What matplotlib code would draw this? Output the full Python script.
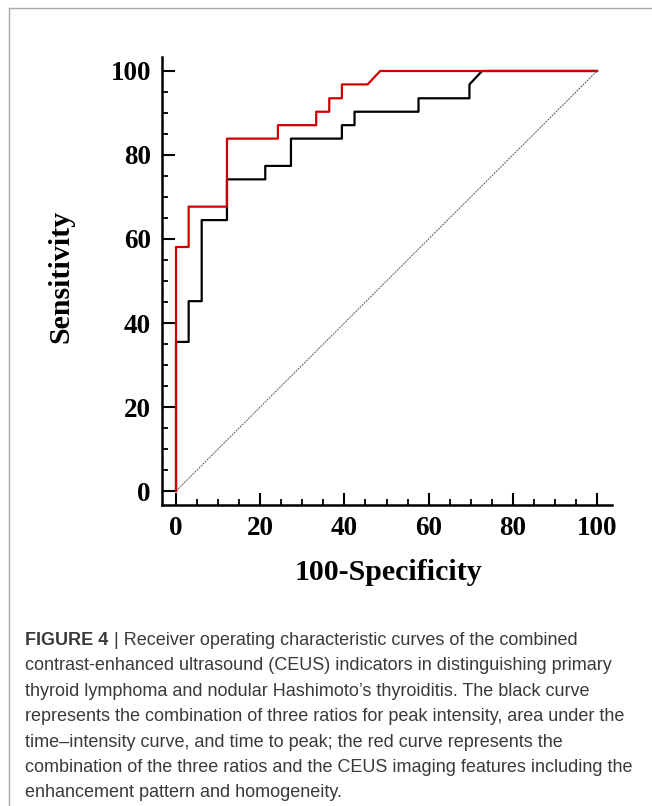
import matplotlib
matplotlib.use("Agg")
import matplotlib.pyplot as plt
from matplotlib.lines import Line2D
from matplotlib.ticker import MultipleLocator

# ROC points (100-Specificity, Sensitivity)
black_x = [0, 0, 3.0, 3.0, 6.1, 6.1, 12.1, 12.1, 21.2, 21.2, 27.3, 27.3,
           39.4, 39.4, 42.4, 42.4, 57.6, 57.6, 69.7, 69.7, 72.7, 100]
black_y = [0, 35.5, 35.5, 45.2, 45.2, 64.5, 64.5, 74.2, 74.2, 77.4, 77.4, 83.9,
           83.9, 87.1, 87.1, 90.3, 90.3, 93.5, 93.5, 96.8, 100, 100]

red_x = [0, 0, 3.0, 3.0, 12.1, 12.1, 24.2, 24.2, 33.3, 33.3, 36.4, 36.4,
         39.4, 39.4, 45.5, 48.5, 100]
red_y = [0, 58.1, 58.1, 67.7, 67.7, 83.9, 83.9, 87.1, 87.1, 90.3, 90.3, 93.5,
         93.5, 96.8, 96.8, 100, 100]

ref_x = [0, 100]
ref_y = [0, 100]

caption_head = "FIGURE 4"
caption_lines = [
    "| Receiver operating characteristic curves of the combined",
    "contrast-enhanced ultrasound (CEUS) indicators in distinguishing primary",
    "thyroid lymphoma and nodular Hashimoto\u2019s thyroiditis. The black curve",
    "represents the combination of three ratios for peak intensity, area under the",
    "time\u2013intensity curve, and time to peak; the red curve represents the",
    "combination of the three ratios and the CEUS imaging features including the",
    "enhancement pattern and homogeneity.",
]

W, H = 652, 806
fig = plt.figure(figsize=(W / 100, H / 100), dpi=100)
ax = fig.add_axes([162 / W, 1 - 505 / H, 450 / W, 448 / H])

serif = "Liberation Serif"

ax.plot(ref_x, ref_y, color="#555555", lw=0.7, ls=(0, (2, 1)))
ax.plot(black_x, black_y, color="black", lw=1.6)
ax.plot(red_x, red_y, color="#cc0000", lw=1.6)

ax.set_xlim(-3.33, 103.56)
ax.set_ylim(-3.33, 103.33)
for s in ["top", "right"]:
    ax.spines[s].set_visible(False)
for s in ["left", "bottom"]:
    ax.spines[s].set_linewidth(1.8)

ax.xaxis.set_minor_locator(MultipleLocator(5))
ax.yaxis.set_minor_locator(MultipleLocator(5))
ax.set_xticks(range(0, 101, 20))
ax.set_yticks(range(0, 101, 20))
ax.tick_params(which="major", direction="in", length=9, width=1.5, pad=8)
ax.tick_params(which="minor", direction="in", length=4.5, width=1.3)
for lab in ax.get_xticklabels() + ax.get_yticklabels():
    lab.set_fontfamily(serif)
    lab.set_fontweight("bold")
    lab.set_fontsize(19.5)

fig.text(61 / W, 1 - 276 / H, "Sensitivity", rotation=90, ha="center", va="center",
         fontfamily=serif, fontweight="bold", fontsize=21.5)
fig.text(388 / W, 1 - 572 / H, "100-Specificity", ha="center", va="center",
         fontfamily=serif, fontweight="bold", fontsize=21.5)

# frame lines
fig.add_artist(Line2D([9 / W, 1], [1 - 8 / H, 1 - 8 / H], color="#aaaaaa", lw=1.0))
fig.add_artist(Line2D([9 / W, 9 / W], [1 - 8 / H, 0], color="#aaaaaa", lw=1.0))

# caption
sans = "Liberation Sans"
cap_color = "#3a3a3a"
fs = 13
x0 = 25 / W
base0 = 645
step = 25.4
head = fig.text(x0, 1 - base0 / H, caption_head, fontfamily=sans, fontweight="bold",
                fontsize=fs, color=cap_color, va="baseline")
r = fig.canvas.get_renderer()
bb = head.get_window_extent(renderer=r)
fig.text((bb.x1 + 6) / W, 1 - base0 / H, caption_lines[0], fontfamily=sans,
         fontsize=fs, color=cap_color, va="baseline")
for i, line in enumerate(caption_lines[1:], start=1):
    fig.text(x0, 1 - (base0 + i * step) / H, line, fontfamily=sans, fontsize=fs,
             color=cap_color, va="baseline")

fig.savefig("out.png", dpi=100)
